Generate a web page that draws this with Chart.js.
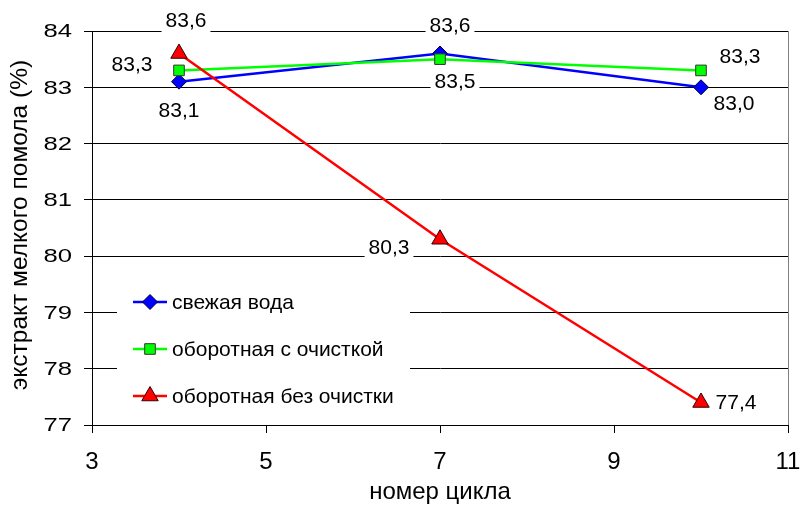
<!DOCTYPE html>
<html>
<head>
<meta charset="utf-8">
<script src="https://cdn.jsdelivr.net/npm/chart.js@4"></script>
<style>
  html, body { margin: 0; padding: 0; background: #fff; }
  #wrap { width: 802px; height: 505px; position: relative; }
</style>
</head>
<body>
<div id="wrap"><canvas id="c" width="802" height="505"></canvas></div>
<script>
// Cycle numbers and extract yield (%) per water type
const cycles = [4, 7, 10];
const freshWater = [83.1, 83.6, 83.0];
const recycledTreated = [83.3, 83.5, 83.3];
const recycledUntreated = [83.6, 80.3, 77.4];
const seriesNames = ['свежая вода', 'оборотная с очисткой', 'оборотная без очистки'];
const xTickValues = [3, 5, 7, 9, 11];
const yTickValues = [77, 78, 79, 80, 81, 82, 83, 84];
const xTitle = 'номер цикла';
const yTitle = 'экстракт мелкого помола (%)';

const FONT = "'Liberation Sans', Arial, sans-serif";

// Value label placement around each point (dx, dy from the marker centre)
const labelOffsets = [
  [[0, 29], [10, -28], [33, 16]],
  [[-47, -6], [15, 22], [39, -14]],
  [[7, -33], [-51, 8], [35, 0]]
];

const toPoints = ys => cycles.map((x, i) => ({ x, y: ys[i] }));

const styles = [
  { color: '#0000ff', fill: '#0000ff', border: '#000033', pointStyle: 'rectRot', radius: 7.5 },
  { color: '#00ff00', fill: '#00ff00', border: '#333333', pointStyle: 'rect', radius: 7.5 },
  { color: '#ff0000', fill: '#ff0000', border: '#330000', pointStyle: 'triangle', radius: 9.5 }
];

const seriesValues = [freshWater, recycledTreated, recycledUntreated];

const datasets = seriesValues.map((vals, i) => ({
  label: seriesNames[i],
  data: toPoints(vals),
  borderColor: styles[i].color,
  borderWidth: 2.5,
  backgroundColor: styles[i].fill,
  pointBackgroundColor: styles[i].fill,
  pointBorderColor: styles[i].border,
  pointBorderWidth: 1,
  pointStyle: styles[i].pointStyle,
  pointRadius: styles[i].radius,
  pointHoverRadius: styles[i].radius,
  tension: 0,
  order: 2 - i
}));

const fmt = v => v.toFixed(1).replace('.', ',');

const decorations = {
  id: 'decorations',
  afterDatasetsDraw(chart) {
    const ctx = chart.ctx;
    const area = chart.chartArea;
    const yScale = chart.scales.y;
    ctx.save();

    // right frame edge
    ctx.strokeStyle = '#808080';
    ctx.lineWidth = 1;
    ctx.beginPath();
    ctx.moveTo(Math.round(area.right) + 0.5, area.top);
    ctx.lineTo(Math.round(area.right) + 0.5, area.bottom);
    ctx.stroke();

    // y tick labels (wide lettering)
    ctx.fillStyle = '#000000';
    ctx.font = '19px ' + FONT;
    ctx.textAlign = 'right';
    ctx.textBaseline = 'middle';
    yTickValues.forEach(v => {
      ctx.save();
      ctx.translate(72, yScale.getPixelForValue(v) + 1);
      ctx.scale(1.35, 1);
      ctx.fillText(String(v), 0, 0);
      ctx.restore();
    });

    // value labels on white boxes
    ctx.font = '21px ' + FONT;
    ctx.textAlign = 'center';
    ctx.textBaseline = 'middle';
    chart.data.datasets.forEach((ds, di) => {
      const meta = chart.getDatasetMeta(di);
      meta.data.forEach((pt, pi) => {
        const text = fmt(seriesValues[di][pi]);
        const [dx, dy] = labelOffsets[di][pi];
        const cx = pt.x + dx, cy = pt.y + dy;
        const w = ctx.measureText(text).width + 8;
        ctx.fillStyle = '#ffffff';
        ctx.fillRect(cx - w / 2, cy - 11, w, 23);
        ctx.fillStyle = '#000000';
        ctx.fillText(text, cx, cy + 1);
      });
    });

    // legend box
    const lx = 117, ly = 278, lw = 293, lh = 142;
    ctx.fillStyle = '#ffffff';
    ctx.fillRect(lx, ly, lw, lh);
    const rows = [302, 349, 396];
    rows.forEach((ry, i) => {
      const st = styles[i];
      ctx.strokeStyle = st.color;
      ctx.lineWidth = 2.5;
      ctx.beginPath();
      ctx.moveTo(133, ry);
      ctx.lineTo(167, ry);
      ctx.stroke();
      ctx.fillStyle = st.fill;
      ctx.strokeStyle = st.border;
      ctx.lineWidth = 1;
      Chart.helpers.drawPoint(ctx, {
        pointStyle: st.pointStyle,
        radius: st.radius,
        rotation: 0,
        borderWidth: 1
      }, 150, ry);
      ctx.fillStyle = '#000000';
      ctx.font = '21px ' + FONT;
      ctx.textAlign = 'left';
      ctx.textBaseline = 'middle';
      ctx.fillText(seriesNames[i], 172, ry + 1);
    });

    // axis titles
    ctx.fillStyle = '#000000';
    ctx.font = '24px ' + FONT;
    ctx.textAlign = 'center';
    ctx.textBaseline = 'middle';
    ctx.fillText(xTitle, (area.left + area.right) / 2, 492);
    ctx.save();
    ctx.translate(20, 225);
    ctx.rotate(-Math.PI / 2);
    ctx.font = '24.5px ' + FONT;
    ctx.fillText(yTitle, 0, 0);
    ctx.restore();

    ctx.restore();
  }
};

new Chart(document.getElementById('c'), {
  type: 'line',
  data: { datasets },
  plugins: [decorations],
  options: {
    responsive: false,
    animation: false,
    devicePixelRatio: 1,
    layout: { autoPadding: false, padding: { top: 31, right: 14, left: 0, bottom: 0 } },
    plugins: { legend: { display: false }, tooltip: { enabled: false } },
    scales: {
      x: {
        type: 'linear',
        min: xTickValues[0],
        max: xTickValues[xTickValues.length - 1],
        afterBuildTicks: s => { s.ticks = xTickValues.map(v => ({ value: v })); },
        afterFit: s => { s.height = 80; s.paddingLeft = 0; s.paddingRight = 0; },
        ticks: {
          color: '#000',
          font: { family: FONT, size: 24 },
          padding: 15,
          maxRotation: 0,
          callback: v => String(v)
        },
        grid: { drawOnChartArea: false, color: '#000', tickLength: 8 },
        border: { color: '#000', width: 1 }
      },
      y: {
        type: 'linear',
        min: yTickValues[0],
        max: yTickValues[yTickValues.length - 1],
        afterBuildTicks: s => { s.ticks = yTickValues.map(v => ({ value: v })); },
        afterFit: s => { s.width = 92; s.paddingTop = 0; s.paddingBottom = 0; },
        ticks: { display: false },
        grid: { color: '#000', tickLength: 8 },
        border: { color: '#000', width: 1 }
      }
    }
  }
});
</script>
</body>
</html>
